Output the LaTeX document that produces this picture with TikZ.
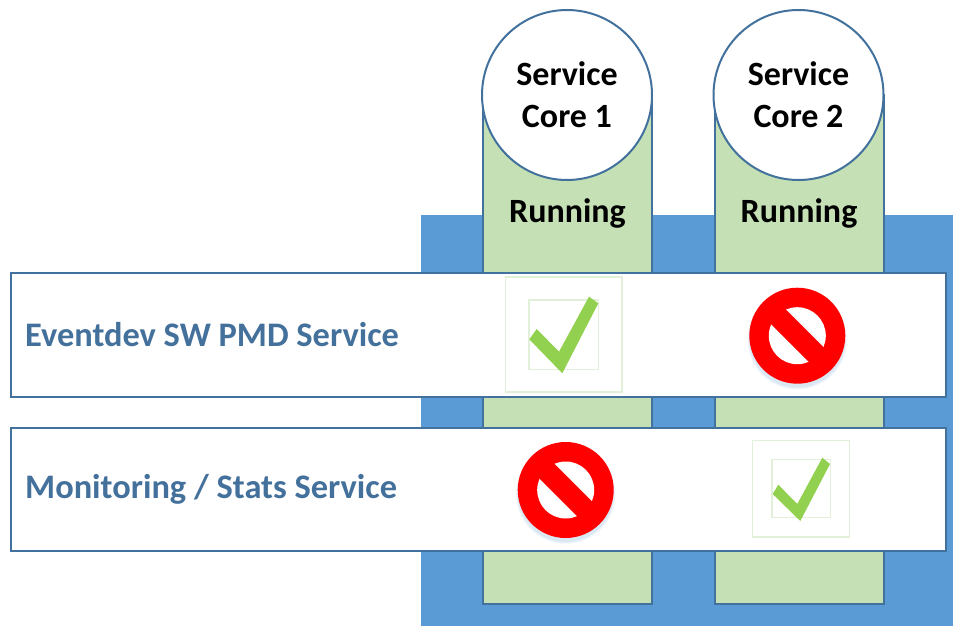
\documentclass[tikz,border=0pt]{standalone}
\usepackage{fontspec}
\setmainfont{Carlito}
\definecolor{bluebg}{HTML}{5B9BD5}
\definecolor{greenbar}{HTML}{C5E0B4}
\definecolor{edgeblue}{HTML}{41719C}
\definecolor{labelblue}{HTML}{44719C}
\definecolor{checkgreen}{HTML}{92D050}
\definecolor{boxgreen}{HTML}{E2F0D9}
\definecolor{shadowblue}{HTML}{5B9BD5}
\tikzset{
  corebar/.style={draw=edgeblue,line width=2pt,fill=greenbar,minimum width=169pt,minimum height=509pt,inner sep=0pt,outer sep=0pt,anchor=north},
  corecircle/.style={circle,draw=edgeblue,line width=2pt,fill=white,minimum size=170pt,inner sep=0pt,align=center,font=\fontsize{34}{42}\selectfont\bfseries,text=black},
  runlabel/.style={font=\fontsize{34}{36}\selectfont\bfseries,text=black,inner sep=0pt},
  rowbox/.style={draw=edgeblue,line width=2.4pt,fill=white,minimum width=935pt,inner sep=0pt,outer sep=0pt,anchor=north west},
  rowlabel/.style={font=\fontsize{34.4}{36}\selectfont\bfseries,text=labelblue,inner sep=0pt,anchor=west},
  selbox/.style={draw=boxgreen,line width=1.2pt,fill=none},
  checkmark/.style={fill=checkgreen,draw=none},
}
\newcommand{\nosign}[2]{%
  \foreach \k/\o in {3/0.05,2/0.08,1/0.10}{\fill[shadowblue,opacity=\o] (#1,#2+4) circle ({47+\k});}
  \fill[red] (#1,#2) circle (48);
  \fill[white] (#1,#2) circle (28.5);
  \draw[red,line width=21pt] (#1-26,#2-26) -- (#1+26,#2+26);
}
\begin{document}
\begin{tikzpicture}[x=1pt,y=-1pt]
\useasboundingbox (0,0) rectangle (953,626);
\fill[bluebg] (421,215) rectangle (953,626);
\node[corebar] (bar1) at (567.5,95) {};
\node[corebar] (bar2) at (799,95) {};
\node[corecircle] (core1) at (567,95) {Service\\Core 1};
\node[corecircle] (core2) at (798.5,95) {Service\\Core 2};
\node[runlabel] (run1) at (567.5,213) {Running};
\node[runlabel] (run2) at (799,213) {Running};
\node[rowbox,minimum height=124pt] (row1) at (11,273) {};
\node[rowbox,minimum height=123pt] (row2) at (11,428) {};
\node[rowlabel] (lab1) at (25,334.5) {Eventdev SW PMD Service};
\node[rowlabel] (lab2) at (25,489) {Monitoring / Stats Service};
% selected check 1
\draw[selbox] (505.5,277) rectangle (622,392);
\draw[selbox] (529,300) rectangle (598.5,369.5);
\fill[checkmark] (529.3,339.3) -- (536.7,329) -- (559,351.7) -- (589,296.7) -- (598.3,303.3) -- (562.3,373.3) -- cycle;
% selected check 2
\draw[selbox] (752.3,440.3) rectangle (849.3,537);
\draw[selbox] (772,459.3) rectangle (830.3,517.7);
\fill[checkmark] (772.7,494) -- (778.3,484.7) -- (797.3,504) -- (822.3,457.7) -- (830,464) -- (800.3,521) -- cycle;
\nosign{797.3}{335.7}
\nosign{565.7}{490}
\end{tikzpicture}
\end{document}
